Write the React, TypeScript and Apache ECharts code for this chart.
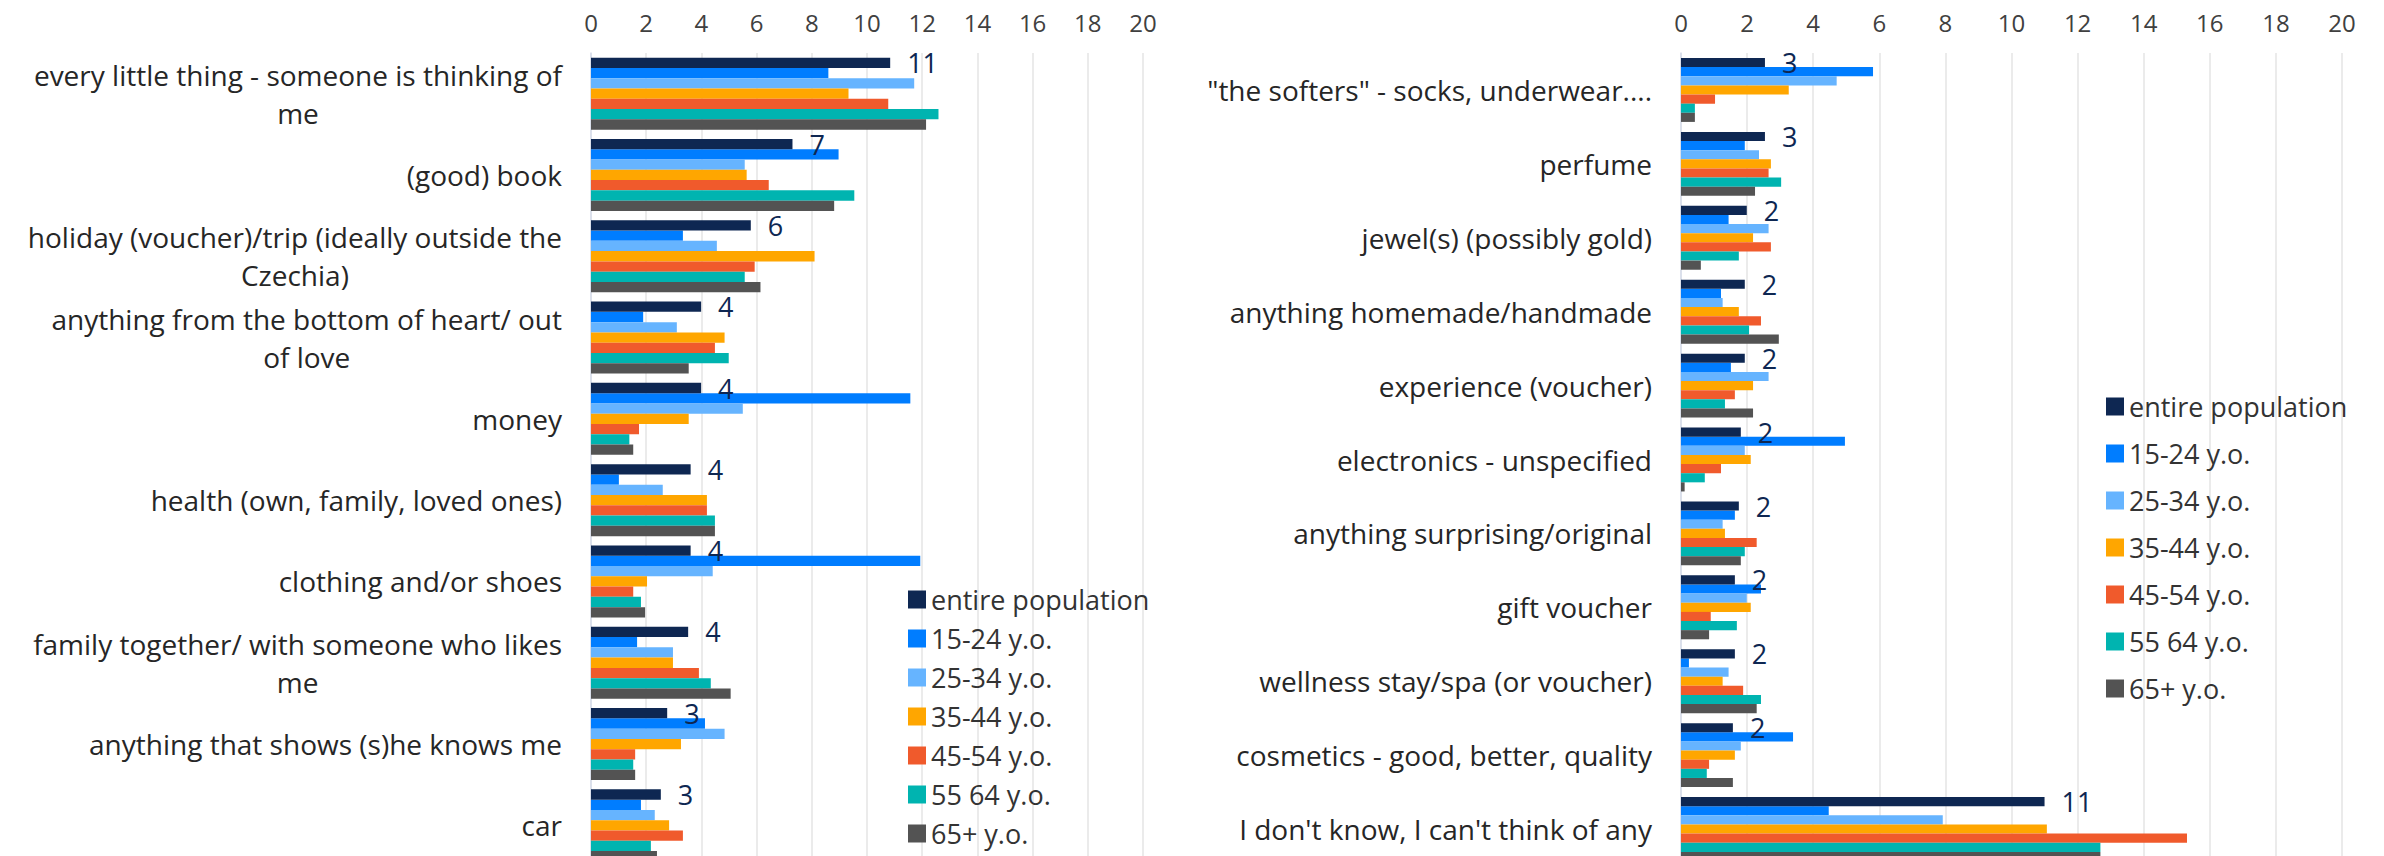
import React, { useEffect, useRef } from "react";
import * as echarts from "echarts";

const SERIES_NAMES = [
  "entire population",
  "15-24 y.o.",
  "25-34 y.o.",
  "35-44 y.o.",
  "45-54 y.o.",
  "55 64 y.o.",
  "65+ y.o.",
];

const SERIES_COLORS = ["#0E2752", "#007DFF", "#66B4FF", "#FFA600", "#F05A2C", "#00B4B0", "#535353"];

const LEFT_CATEGORIES = [
  "every little thing - someone is thinking of\nme",
  "(good) book",
  "holiday (voucher)/trip (ideally outside the\nCzechia)",
  "anything from the bottom of heart/ out\nof love",
  "money",
  "health (own, family, loved ones)",
  "clothing and/or shoes",
  "family together/ with someone who likes\nme",
  "anything that shows (s)he knows me",
  "car",
];

const RIGHT_CATEGORIES = [
  "\"the softers\" - socks, underwear....",
  "perfume",
  "jewel(s) (possibly gold)",
  "anything homemade/handmade",
  "experience (voucher)",
  "electronics - unspecified",
  "anything surprising/original",
  "gift voucher",
  "wellness stay/spa (or voucher)",
  "cosmetics - good, better, quality",
  "I don't know, I can't think of any",
];

const LEFT_ENTIRE = [10.84, 7.3, 5.79, 3.99, 3.99, 3.61, 3.61, 3.52, 2.76, 2.53];
const LEFT_15_24 = [8.6, 8.97, 3.33, 1.89, 11.57, 1.01, 11.93, 1.67, 4.13, 1.81];
const LEFT_25_34 = [11.71, 5.57, 4.56, 3.11, 5.5, 2.6, 4.41, 2.97, 4.84, 2.31];
const LEFT_35_44 = [9.33, 5.64, 8.1, 4.84, 3.54, 4.2, 2.03, 2.97, 3.26, 2.83];
const LEFT_45_54 = [10.77, 6.44, 5.93, 4.49, 1.74, 4.2, 1.53, 3.91, 1.6, 3.33];
const LEFT_55_64 = [12.59, 9.54, 5.57, 4.99, 1.39, 4.49, 1.81, 4.34, 1.53, 2.17];
const LEFT_65_PLUS = [12.14, 8.81, 6.14, 3.54, 1.53, 4.49, 1.96, 5.06, 1.6, 2.39];

const RIGHT_ENTIRE = [2.54, 2.54, 1.99, 1.93, 1.93, 1.81, 1.75, 1.63, 1.63, 1.57, 11.0];
const RIGHT_15_24 = [5.81, 1.93, 1.44, 1.21, 1.51, 4.96, 1.63, 2.42, 0.24, 3.39, 4.47];
const RIGHT_25_34 = [4.71, 2.36, 2.65, 1.26, 2.65, 1.93, 1.26, 1.99, 1.44, 1.81, 7.92];
const RIGHT_35_44 = [3.26, 2.72, 2.18, 1.75, 2.18, 2.11, 1.33, 2.11, 1.26, 1.63, 11.07];
const RIGHT_45_54 = [1.03, 2.65, 2.72, 2.42, 1.63, 1.21, 2.29, 0.9, 1.88, 0.85, 15.31];
const RIGHT_55_64 = [0.42, 3.03, 1.75, 2.06, 1.33, 0.72, 1.93, 1.69, 2.42, 0.78, 12.69];
const RIGHT_65_PLUS = [0.42, 2.24, 0.6, 2.96, 2.18, 0.11, 1.81, 0.85, 2.29, 1.57, 12.69];

const LEFT_VALUES = [LEFT_ENTIRE, LEFT_15_24, LEFT_25_34, LEFT_35_44, LEFT_45_54, LEFT_55_64, LEFT_65_PLUS];
const RIGHT_VALUES = [RIGHT_ENTIRE, RIGHT_15_24, RIGHT_25_34, RIGHT_35_44, RIGHT_45_54, RIGHT_55_64, RIGHT_65_PLUS];

const X_MIN = 0;
const X_MAX = 20;
const X_INTERVAL = 2;

const FONT = '"Comic Sans MS", "Open Sans", sans-serif';
const CHART_H = 900;
const PLOT_BOTTOM = 866;

export default function App() {
  const ref = useRef<HTMLDivElement>(null);

  useEffect(() => {
    if (!ref.current) return;
    const chart = echarts.init(ref.current, null, { renderer: "svg" });

    const xAxisBase = (gridIndex: number) => ({
      type: "value",
      gridIndex,
      position: "top",
      min: X_MIN,
      max: X_MAX,
      interval: X_INTERVAL,
      axisLine: { show: false },
      axisTick: { show: false },
      axisLabel: { fontSize: 24, color: "#404040", fontFamily: FONT, margin: 19 },
      splitLine: { show: true, lineStyle: { color: "#E4E4E4", width: 1.5 } },
    });

    const yAxisBase = (gridIndex: number, cats: string[]) => ({
      type: "category",
      gridIndex,
      inverse: true,
      data: cats,
      axisLine: { show: true, lineStyle: { color: "#D6DDEB", width: 1.5 } },
      axisTick: { show: false },
      axisLabel: {
        margin: 29,
        align: "right",
        fontSize: 28,
        color: "#262626",
        fontFamily: FONT,
        formatter: (v: string) =>
          v
            .split("\n")
            .map((l) => "{c|" + l + "}")
            .join("\n"),
        rich: {
          c: {
            align: "center",
            fontSize: 28,
            lineHeight: 38,
            color: "#262626",
            fontFamily: FONT,
          },
        },
      },
    });

    const makeSeries = (gridIdx: number, values: number[][], gap: string) =>
      values.map((vals, i) => ({
        name: SERIES_NAMES[i],
        type: "bar",
        xAxisIndex: gridIdx,
        yAxisIndex: gridIdx,
        data: vals,
        barGap: "0%",
        barCategoryGap: gap,
        z: i === 0 ? 5 : 2,
        itemStyle: { color: SERIES_COLORS[i] },
        label:
          i === 0
            ? {
                show: true,
                position: "right",
                distance: 17,
                fontSize: 27,
                color: "#0E2752",
                fontFamily: FONT,
                formatter: (p: any) => String(Math.round(p.value)),
              }
            : { show: false },
      }));

    const legendBase = (left: number, top: number, gap: number) => ({
      orient: "vertical",
      left,
      top,
      padding: 0,
      icon: "rect",
      itemWidth: 18,
      itemHeight: 18,
      itemGap: gap,
      data: SERIES_NAMES,
      textStyle: { fontSize: 27, color: "#333333", fontFamily: FONT, lineHeight: 22 },
    });

    chart.setOption({
      animation: false,
      backgroundColor: "#FFFFFF",
      grid: [
        { left: 591, right: 2384 - 1143, top: 53, bottom: CHART_H - PLOT_BOTTOM },
        { left: 1681, right: 2384 - 2342, top: 53, bottom: CHART_H - PLOT_BOTTOM },
      ],
      xAxis: [xAxisBase(0), xAxisBase(1)],
      yAxis: [yAxisBase(0, LEFT_CATEGORIES), yAxisBase(1, RIGHT_CATEGORIES)],
      legend: [legendBase(908, 586, 12), legendBase(2106, 393, 20)],
      series: [...makeSeries(0, LEFT_VALUES, "11.5%"), ...makeSeries(1, RIGHT_VALUES, "13.5%")],
    });

    return () => chart.dispose();
  }, []);

  return (
    <div
      style={{
        position: "fixed",
        left: 0,
        top: 0,
        width: 2384,
        height: 856,
        overflow: "hidden",
        background: "#FFFFFF",
      }}
    >
      <div ref={ref} style={{ width: 2384, height: CHART_H }} />
    </div>
  );
}
